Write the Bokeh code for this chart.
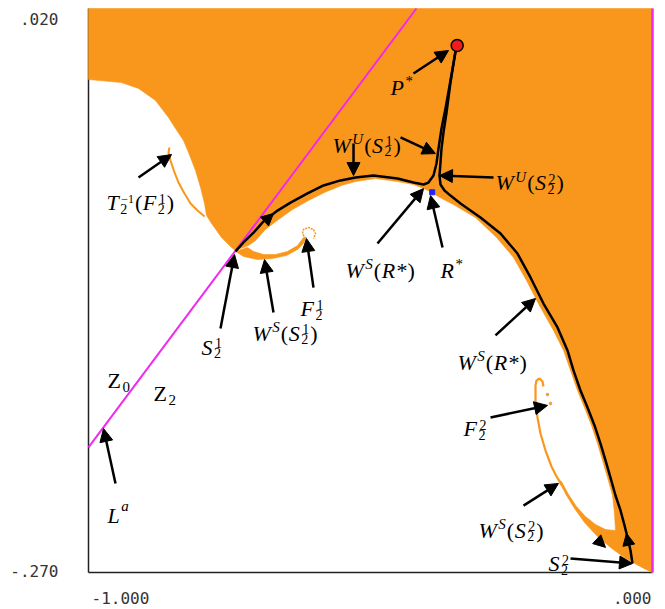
from bokeh.plotting import figure
from bokeh.models import Range1d, Label, Arrow, NormalHead
from bokeh.embed import file_html
from bokeh.resources import INLINE

# ---------------------------------------------------------------- data
x_ticks = [-1.0, 0.0]
x_tick_labels = ["-1.000", ".000"]
y_ticks = [0.02, -0.27]
y_tick_labels = [".020", "-.270"]

# boundary of the orange basin (everything above / right of it)
basin_x = [-1.0, 0.0, 0.0, -0.0213, -0.0390, -0.0496, -0.0585, -0.0656,
           -0.0674, -0.0709, -0.0798, -0.0887, -0.0975, -0.1082, -0.1206,
           -0.1330, -0.1454, -0.1578, -0.1755, -0.1986, -0.2234, -0.2465,
           -0.2766, -0.3138, -0.3351, -0.3528, -0.3670, -0.3830, -0.3936,
           -0.4060, -0.4238, -0.4521, -0.4911, -0.5266, -0.5514, -0.5816,
           -0.6099, -0.6383, -0.6631, -0.6862, -0.7039, -0.7163, -0.7394,
           -0.7465, -0.7642, -0.7819, -0.7908, -0.7943, -0.8014, -0.8103,
           -0.8227, -0.8316, -0.8457, -0.8582, -0.8812, -0.9113, -0.9415,
           -1.0]
basin_y = [0.0200, 0.0200, -0.2700, -0.2669, -0.2638, -0.2587, -0.2535,
           -0.2484, -0.2397, -0.2304, -0.2212, -0.2124, -0.2037, -0.1944,
           -0.1852, -0.1764, -0.1661, -0.1558, -0.1456, -0.1337, -0.1199,
           -0.1080, -0.0977, -0.0875, -0.0839, -0.0808, -0.0787, -0.0762,
           -0.0741, -0.0726, -0.0705, -0.0690, -0.0674, -0.0690, -0.0710,
           -0.0746, -0.0787, -0.0834, -0.0885, -0.0936, -0.0993, -0.1019,
           -0.1044, -0.1029, -0.0977, -0.0905, -0.0864, -0.0803, -0.0720,
           -0.0633, -0.0540, -0.0479, -0.0417, -0.0360, -0.0273, -0.0211,
           -0.0181, -0.0165]

# orange tongue along W^s(S2^1)
tongue_x = [-0.7394, -0.7252, -0.7004, -0.6738, -0.6489, -0.6294, -0.6188,
            -0.6135, -0.6188, -0.6294, -0.6472, -0.6684, -0.6897, -0.7074,
            -0.7181]
tongue_y = [-0.1049, -0.1075, -0.1091, -0.1086, -0.1070, -0.1039, -0.1008,
            -0.0977, -0.0977, -0.1019, -0.1049, -0.1065, -0.1065, -0.1049,
            -0.1029]

# spiral end F2^1
f21_x = [-0.6152, -0.6206, -0.6188, -0.6099, -0.6011, -0.5975, -0.6011]
f21_y = [-0.0983, -0.0957, -0.0936, -0.0926, -0.0936, -0.0957, -0.0983]

# thin preimage curve T2^-1(F2^1)
t_x = [-0.8564, -0.8582, -0.8546, -0.8475, -0.8404, -0.8298, -0.8191,
       -0.8067, -0.7943]
t_y = [-0.0515, -0.0540, -0.0582, -0.0643, -0.0695, -0.0751, -0.0803,
       -0.0839, -0.0870]

# thin curve F2^2 running into the band W^s(S2^2)
f22_x = [-0.1933, -0.1950, -0.2004, -0.2057, -0.2074, -0.2074, -0.2039,
         -0.1986, -0.1897, -0.1791, -0.1702, -0.1613]
f22_y = [-0.1744, -0.1718, -0.1702, -0.1713, -0.1738, -0.1816, -0.1903,
         -0.1985, -0.2073, -0.2155, -0.2206, -0.2248]
f22_dots_x = [-0.1862, -0.1809]
f22_dots_y = [-0.1785, -0.1831]

band_x = [-0.1667, -0.1525, -0.1383, -0.1206, -0.0993, -0.0745, -0.0479,
          -0.0213, 0.0, 0.0, -0.0390, -0.0656, -0.0833, -0.1011, -0.1188,
          -0.1348, -0.1489, -0.1613]
band_y = [-0.2227, -0.2304, -0.2371, -0.2443, -0.2510, -0.2571, -0.2628,
          -0.2669, -0.2700, -0.2587, -0.2510, -0.2484, -0.2479, -0.2453,
          -0.2412, -0.2361, -0.2299, -0.2232]

# unstable manifolds (black)
wu1_x = [-0.7394, -0.7252, -0.7074, -0.6897, -0.6649, -0.6418, -0.6117,
         -0.5833, -0.5532, -0.5266, -0.4947, -0.4521, -0.4238, -0.4060,
         -0.3972, -0.3883, -0.3830, -0.3794, -0.3741, -0.3670, -0.3582,
         -0.3493]
wu1_y = [-0.1049, -0.1003, -0.0952, -0.0895, -0.0839, -0.0798, -0.0751,
         -0.0710, -0.0684, -0.0669, -0.0659, -0.0674, -0.0695, -0.0705,
         -0.0695, -0.0659, -0.0597, -0.0520, -0.0417, -0.0314, -0.0170,
         -0.0021]
wu2_x = [-0.3493, -0.3582, -0.3652, -0.3706, -0.3741, -0.3759, -0.3777,
         -0.3759, -0.3688, -0.3582, -0.3404, -0.3050, -0.2695, -0.2394,
         -0.2163, -0.1933, -0.1684, -0.1507, -0.1401, -0.1277, -0.1152,
         -0.1028, -0.0922, -0.0833, -0.0745, -0.0656, -0.0567, -0.0496,
         -0.0443, -0.0390, -0.0355]
wu2_y = [-0.0021, -0.0181, -0.0335, -0.0438, -0.0520, -0.0592, -0.0659,
         -0.0705, -0.0736, -0.0762, -0.0803, -0.0875, -0.0957, -0.1060,
         -0.1183, -0.1317, -0.1440, -0.1558, -0.1661, -0.1764, -0.1852,
         -0.1944, -0.2037, -0.2124, -0.2212, -0.2304, -0.2381, -0.2458,
         -0.2520, -0.2587, -0.2654]

# critical line L^a
la_x = [-1.0, -0.4186]
la_y = [-0.2057, 0.0200]

# fixed points
p_star = (-0.3463, 0.0010)
r_star = (-0.3906, -0.0745)

# ---------------------------------------------------------------- styles
ORANGE = "#F9971D"
MAGENTA = "#F028F0"
SERIF = "Liberation Serif"
BIG, SMALL = 22, 15
SUP_UP, SUB_DOWN, LOW_UP = 6, 6, 10
ITALIC_ADV = {"W": 0.833, "U": 0.722, "S": 0.5, "R": 0.611, "F": 0.611,
              "T": 0.556, "P": 0.611, "L": 0.556, "a": 0.5}
ROMAN_ADV = {"(": 0.333, ")": 0.333, "*": 0.5, "0": 0.5, "1": 0.5,
             "2": 0.5, "\u2212": 0.564, "Z": 0.611}

# the plotting frame fills the canvas; the data box sits inside it with
# margins (in pixels) left for the end values of the two axes
W, H = 665, 609
LEFT, RIGHT, TOP, BOTTOM = 88, 13, 8, 37
sx = (x_ticks[1] - x_ticks[0]) / (W - LEFT - RIGHT)
sy = (y_ticks[0] - y_ticks[1]) / (H - TOP - BOTTOM)

p = figure(width=W, height=H,
           x_range=Range1d(x_ticks[0] - LEFT * sx, x_ticks[1] + RIGHT * sx),
           y_range=Range1d(y_ticks[1] - BOTTOM * sy, y_ticks[0] + TOP * sy),
           output_backend="svg", toolbar_location=None, title=None,
           min_border=0)
p.axis.visible = False
p.grid.visible = False
p.outline_line_color = None
p.background_fill_color = "white"
p.border_fill_color = "white"

# left and bottom edges of the data box (underneath the basin colouring)
p.segment(x0=[x_ticks[0], x_ticks[0]], y0=[y_ticks[1], y_ticks[1]],
          x1=[x_ticks[0], x_ticks[1]], y1=[y_ticks[0], y_ticks[1]],
          line_color="#222222", line_width=1.5)

# basin of attraction
p.patch(basin_x, basin_y, fill_color=ORANGE, line_color=ORANGE, line_width=0.6)
p.patch(tongue_x, tongue_y, fill_color=ORANGE, line_color=ORANGE, line_width=0.6)
p.patch(band_x, band_y, fill_color=ORANGE, line_color=ORANGE, line_width=0.6)
p.line(t_x, t_y, line_color=ORANGE, line_width=2)
p.line(f22_x, f22_y, line_color=ORANGE, line_width=2.2)
p.line(f21_x, f21_y, line_color=ORANGE, line_width=1.6, line_dash="2 1")
p.scatter(f22_dots_x, f22_dots_y, size=2.5, color=ORANGE)

# critical lines
p.line(la_x, la_y, line_color=MAGENTA, line_width=2)
p.segment(x0=[x_ticks[1]], y0=[y_ticks[1]], x1=[x_ticks[1]], y1=[y_ticks[0]],
          line_color=MAGENTA, line_width=2.5)

# manifolds
p.line(wu1_x, wu1_y, line_color="black", line_width=2.5, line_join="round")
p.line(wu2_x, wu2_y, line_color="black", line_width=2.5, line_join="round")

# fixed points
p.scatter([p_star[0]], [p_star[1]], size=12, fill_color="#EE1C1C",
          line_color="black", line_width=1.5)
p.scatter([r_star[0]], [r_star[1]], marker="square", size=5, color="#2222FF")


def head(size):
    return NormalHead(size=size, fill_color="black", line_color="black",
                      line_width=1)


# direction marks on the manifolds
for xs, ys, xe, ye in [(-0.6897, -0.0900, -0.6720, -0.0854),
                       (-0.0408, -0.2577, -0.0461, -0.2499),
                       (-0.1099, -0.2499, -0.0833, -0.2571)]:
    p.add_layout(Arrow(end=head(12), x_start=xs, y_start=ys, x_end=xe,
                       y_end=ye, line_alpha=0))

# pointer arrows
pointers = [(-0.9113, -0.0669, -0.8528, -0.0551),
            (-0.7660, -0.1445, -0.7411, -0.1065),
            (-0.6720, -0.1363, -0.6879, -0.1091),
            (-0.6011, -0.1235, -0.6135, -0.0983),
            (-0.5301, -0.0494, -0.5301, -0.0659),
            (-0.4468, -0.0463, -0.3848, -0.0546),
            (-0.4238, -0.0134, -0.3617, -0.0016),
            (-0.2819, -0.0669, -0.3777, -0.0659),
            (-0.4876, -0.1008, -0.4060, -0.0726),
            (-0.3723, -0.1029, -0.3936, -0.0762),
            (-0.2784, -0.1481, -0.2074, -0.1291),
            (-0.2872, -0.1903, -0.1862, -0.1841),
            (-0.2287, -0.2356, -0.1667, -0.2242),
            (-0.1454, -0.2628, -0.0355, -0.2654),
            (-0.9521, -0.2242, -0.9734, -0.1960)]
for xs, ys, xe, ye in pointers:
    p.add_layout(Arrow(end=head(13), x_start=xs, y_start=ys, x_end=xe,
                       y_end=ye, line_color="black", line_width=2.5))


def adv(text, size):
    tot = 0.0
    for c in text:
        if c in ITALIC_ADV:
            tot += ITALIC_ADV[c]
        else:
            tot += ROMAN_ADV.get(c, 0.5)
    return tot * size


def put(x, y, text, dx, dy, size):
    italic = text.isalpha() and text != "Z"
    p.add_layout(Label(x=x, y=y, x_offset=dx, y_offset=dy, text=text,
                       text_font=SERIF, text_font_size=f"{size}px",
                       text_font_style="italic" if italic else "normal",
                       text_color="black", text_align="left",
                       text_baseline="alphabetic"))


def rich(x, y, parts):
    dx = 0.0
    for part in parts:
        kind = part[0]
        if kind == "n":
            put(x, y, part[1], dx, 0, BIG)
            dx += adv(part[1], BIG) + (1.5 if part[1].isalpha() else 0.5)
        elif kind == "sup":
            rise = LOW_UP if part[1].islower() else SUP_UP
            put(x, y, part[1], dx, rise, SMALL)
            dx += adv(part[1], SMALL) + 1
        elif kind == "sub":
            put(x, y, part[1], dx, -SUB_DOWN, SMALL)
            dx += adv(part[1], SMALL) + 1
        else:  # stacked subscript / superscript
            size = SMALL - 1 if len(part[2]) == 1 else SMALL - 3
            put(x, y, part[1], dx, -SUB_DOWN, SMALL - 1)
            put(x, y, part[2], dx + 1, SUP_UP - 2, size)
            dx += max(adv(part[1], SMALL - 1), adv(part[2], size) + 1) + 1


def wu(k):
    return [("n", "W"), ("sup", "U"), ("n", "("), ("n", "S"), ("ss", "2", k), ("n", ")")]


def ws_s(k):
    return [("n", "W"), ("sup", "S"), ("n", "("), ("n", "S"), ("ss", "2", k), ("n", ")")]


WS_R = [("n", "W"), ("sup", "S"), ("n", "("), ("n", "R"), ("n", "*)")]

labels = [
    (-0.5674, -0.0504, wu("1")),
    (-0.2784, -0.0695, wu("2")),
    (-0.5443, -0.1147, WS_R),
    (-0.3457, -0.1620, WS_R),
    (-0.3759, -0.1147, [("n", "R"), ("sup", "*")]),
    (-0.4645, -0.0206, [("n", "P"), ("sup", "*")]),
    (-0.9681, -0.0798, [("n", "T"), ("ss", "2", "\u22121"), ("n", "("), ("n", "F"),
                        ("ss", "2", "1"), ("n", ")")]),
    (-0.7996, -0.1543, [("n", "S"), ("ss", "2", "1")]),
    (-0.1844, -0.2654, [("n", "S"), ("ss", "2", "2")]),
    (-0.6241, -0.1343, [("n", "F"), ("ss", "2", "1")]),
    (-0.3351, -0.1960, [("n", "F"), ("ss", "2", "2")]),
    (-0.7092, -0.1471, ws_s("1")),
    (-0.3085, -0.2484, ws_s("2")),
    (-0.9663, -0.2407, [("n", "L"), ("sup", "a")]),
    (-0.9663, -0.1713, [("n", "Z"), ("sub", "0")]),
    (-0.8848, -0.1780, [("n", "Z"), ("sub", "2")]),
]
for lx, ly, parts in labels:
    rich(lx, ly, parts)

# axis end values
TICK = dict(text_font="DejaVu Sans Mono", text_font_size="16px",
            text_color="#333333", text_baseline="middle")
for xv, txt, align, off in zip(x_ticks, x_tick_labels, ["left", "right"], [3, -1]):
    p.add_layout(Label(x=xv, y=y_ticks[1], x_offset=off, y_offset=-25, text=txt,
                       text_align=align, **TICK))
for yv, txt, off in zip(y_ticks, y_tick_labels, [-10, 2]):
    p.add_layout(Label(x=x_ticks[0], y=yv, x_offset=-30, y_offset=off, text=txt,
                       text_align="right", **TICK))

open("out.html", "w").write(file_html(p, INLINE))
